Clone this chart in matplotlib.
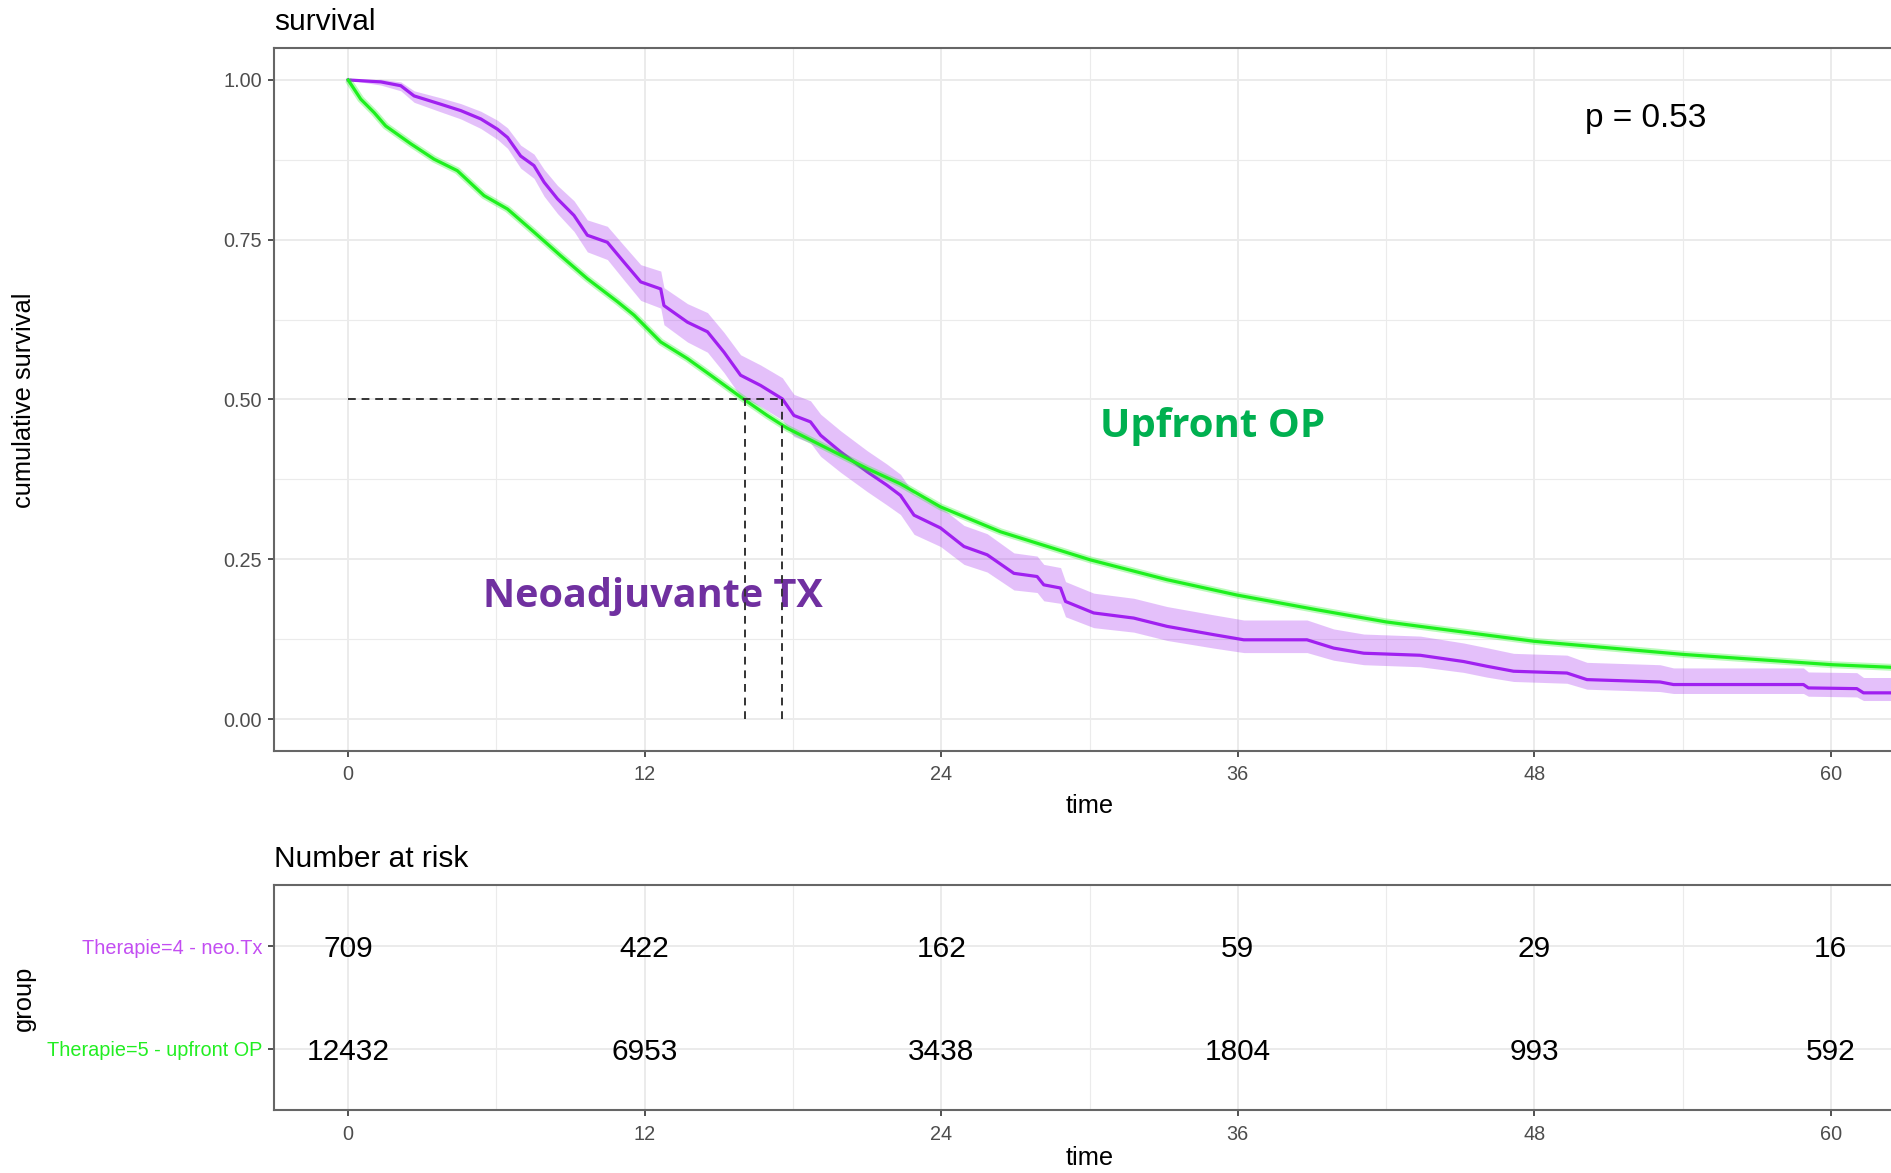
import numpy as np
import matplotlib
matplotlib.use('Agg')
import matplotlib.pyplot as plt

plt.rcParams['font.family'] = ['Liberation Sans', 'DejaVu Sans']

# ------------------------------------------------------------
# Data
# ------------------------------------------------------------
# upfront OP (Therapie=5)
op_t = [0, 0.51, 1.05, 1.52, 2.54, 3.48, 4.42, 5.5, 6.45, 7.52, 8.6, 9.68,
        10.9, 11.57, 12.65, 13.73, 14.67, 15.88, 16.96, 17.77, 18.85, 19.93,
        21.0, 22.35, 23.97, 26.4, 30.04, 33.14, 35.97, 39.2, 42.0, 48.0,
        54.07, 60.06, 63.0]
op_s = [1.0, 0.970, 0.949, 0.928, 0.900, 0.876, 0.858, 0.819, 0.798, 0.762,
        0.725, 0.689, 0.653, 0.632, 0.590, 0.564, 0.538, 0.504, 0.475, 0.455,
        0.434, 0.413, 0.392, 0.368, 0.332, 0.293, 0.249, 0.218, 0.194, 0.171,
        0.152, 0.1216, 0.101, 0.085, 0.080]

# neoadjuvant Tx (Therapie=4), with upper / lower CI distance
neo_t = [0, 1.32, 2.13, 2.67, 3.75, 4.56, 5.37, 6.04, 6.45, 6.98, 7.52, 7.93,
         8.47, 9.14, 9.68, 10.49, 11.16, 11.84, 12.65, 12.78, 13.73, 14.54,
         15.21, 15.88, 16.69, 17.57, 18.04, 18.71, 19.12, 19.93, 21.0, 21.8,
         22.35, 22.9, 23.97, 24.92, 25.86, 26.94, 27.88, 28.15, 28.83, 29.03,
         30.17, 31.79, 33.14, 35.03, 36.24, 38.8, 39.88, 41.1, 43.38, 45.14,
         46.08, 47.16, 49.32, 50.13, 53.09, 53.63, 58.89, 59.09, 61.05, 61.32,
         63.0]
neo_s = [1.0, 0.997, 0.991, 0.975, 0.962, 0.952, 0.939, 0.923, 0.910, 0.881,
         0.866, 0.840, 0.814, 0.788, 0.757, 0.746, 0.715, 0.684, 0.673, 0.647,
         0.621, 0.606, 0.574, 0.538, 0.522, 0.501, 0.475, 0.465, 0.444, 0.418,
         0.387, 0.366, 0.350, 0.319, 0.299, 0.270, 0.257, 0.228, 0.223, 0.210,
         0.205, 0.184, 0.166, 0.158, 0.145, 0.132, 0.124, 0.124, 0.111, 0.103,
         0.0998, 0.090, 0.0826, 0.0748, 0.072, 0.0617, 0.058, 0.054, 0.054,
         0.0487, 0.0476, 0.041, 0.041]
neo_ci_up = [0.0, 0.004, 0.006, 0.008, 0.010, 0.011, 0.012, 0.014, 0.015,
             0.017, 0.018, 0.020, 0.021, 0.023, 0.024, 0.025, 0.026, 0.027,
             0.028, 0.028, 0.029, 0.030, 0.031, 0.032, 0.032, 0.033, 0.033,
             0.033, 0.033, 0.033, 0.033, 0.033, 0.033, 0.033, 0.033, 0.033,
             0.033, 0.032, 0.032, 0.032, 0.032, 0.031, 0.031, 0.031, 0.031,
             0.031, 0.031, 0.031, 0.030, 0.030, 0.030, 0.029, 0.029, 0.028,
             0.028, 0.027, 0.027, 0.026, 0.026, 0.025, 0.025, 0.024, 0.024]
neo_ci_dn = [0.0, 0.005, 0.008, 0.010, 0.012, 0.013, 0.015, 0.016, 0.017,
             0.019, 0.020, 0.022, 0.023, 0.025, 0.026, 0.027, 0.028, 0.029,
             0.030, 0.030, 0.031, 0.032, 0.032, 0.033, 0.033, 0.033, 0.033,
             0.033, 0.033, 0.032, 0.031, 0.031, 0.030, 0.030, 0.029, 0.028,
             0.027, 0.026, 0.025, 0.025, 0.024, 0.024, 0.023, 0.022, 0.022,
             0.021, 0.020, 0.020, 0.019, 0.018, 0.018, 0.017, 0.017, 0.016,
             0.016, 0.015, 0.015, 0.014, 0.014, 0.013, 0.013, 0.012, 0.012]

# medians (months)
med_op = 16.05
med_neo = 17.57

# number at risk
risk_times = [0, 12, 24, 36, 48, 60]
neo_risk = [709, 422, 162, 59, 29, 16]
op_risk = [12432, 6953, 3438, 1804, 993, 592]

group_labels = ['Therapie=5 - upfront OP', 'Therapie=4 - neo.Tx']
p_text = 'p = 0.53'

PURPLE = '#a020f0'
GREEN = '#1ef01e'
GRID = '#ebebeb'
BORDER = '#666666'

# ------------------------------------------------------------
fig = plt.figure(figsize=(18.91, 11.73), dpi=100)
W, H = 1891.0, 1173.0

L = 274 / W
AW = (1905 - 274) / W

# main survival panel
ax = fig.add_axes([L, 1 - 751 / H, AW, (751 - 48) / H])
ax.set_xlim(-3, 63)
ax.set_ylim(-0.05, 1.05)
ax.set_xticks(risk_times)
ax.set_xticks([6, 18, 30, 42, 54], minor=True)
ax.set_yticks([0, 0.25, 0.5, 0.75, 1.0])
ax.set_yticks([0.125, 0.375, 0.625, 0.875], minor=True)
ax.set_yticklabels(['0.00', '0.25', '0.50', '0.75', '1.00'])
ax.grid(which='major', color=GRID, lw=1.4, zorder=0)
ax.grid(which='minor', color=GRID, lw=0.8, zorder=0)
ax.set_axisbelow(True)
ax.tick_params(which='major', length=4, width=1.2, color='#333333', pad=4.5,
               labelsize=14.3, labelcolor='#4d4d4d')
ax.tick_params(axis='x', pad=6)
ax.tick_params(which='minor', length=0)
for sp in ax.spines.values():
    sp.set_color(BORDER)
    sp.set_linewidth(1.5)

neo_s_a = np.array(neo_s)
ax.fill_between(neo_t, neo_s_a - np.array(neo_ci_dn),
                neo_s_a + np.array(neo_ci_up),
                color=PURPLE, alpha=0.28, lw=0, zorder=2)
ax.plot(neo_t, neo_s, color=PURPLE, lw=2.3, zorder=3)
ax.plot(op_t, op_s, color=GREEN, lw=5, alpha=0.3, zorder=4,
        solid_capstyle='butt')
ax.plot(op_t, op_s, color=GREEN, lw=2.3, zorder=4)

# median lines
dash = dict(color='#333333', lw=1.4, ls=(0, (4, 3)), zorder=5)
ax.plot([0, med_neo], [0.5, 0.5], **dash)
ax.plot([med_op, med_op], [0, 0.5], **dash)
ax.plot([med_neo, med_neo], [0, 0.5], **dash)

ax.text(52.5, 0.94, p_text, ha='center', va='center', fontsize=24)
ax.text(34.97, 0.457, 'Upfront OP', ha='center', va='center', fontsize=29,
        fontweight='bold', color='#00b050', family=['Open Sans', 'DejaVu Sans'])
ax.text(12.34, 0.192, 'Neoadjuvante TX', ha='center', va='center',
        fontsize=28.5, fontweight='bold', color='#7030a0',
        family=['Open Sans', 'DejaVu Sans'])

# risk table panel
rax = fig.add_axes([L, 1 - 1110 / H, AW, (1110 - 885) / H])
rax.set_xlim(-3, 63)
rax.set_ylim(0.4, 2.6)
rax.set_xticks(risk_times)
rax.set_xticks([6, 18, 30, 42, 54], minor=True)
rax.set_yticks([1, 2])
rax.set_yticklabels(group_labels)
rax.grid(which='major', color=GRID, lw=1.4, zorder=0)
rax.grid(which='minor', axis='x', color=GRID, lw=0.8, zorder=0)
rax.set_axisbelow(True)
rax.tick_params(which='major', length=4, width=1.2, color='#333333', pad=4.5,
                labelsize=14.3, labelcolor='#4d4d4d')
rax.tick_params(axis='x', pad=6.5)
rax.tick_params(which='minor', length=0)
rax.get_yticklabels()[0].set_color('#22ee22')
rax.get_yticklabels()[1].set_color('#c34ef2')
for sp in rax.spines.values():
    sp.set_color(BORDER)
    sp.set_linewidth(1.5)

for t, n in zip(risk_times, neo_risk):
    rax.text(t, 2, str(n), ha='center', va='center_baseline', fontsize=21.5)
for t, n in zip(risk_times, op_risk):
    rax.text(t, 1, str(n), ha='center', va='center_baseline', fontsize=21.5)

# titles and axis labels
cx = L + AW / 2
fig.text(L, 1 - 30 / H, 'survival', fontsize=21.5, va='baseline')
fig.text(L, 1 - 867 / H, 'Number at risk', fontsize=21.5, va='baseline')
fig.text(cx, 1 - 806 / H, 'time', fontsize=18.4, ha='center', va='center')
fig.text(cx, 1 - 1158 / H, 'time', fontsize=18.4, ha='center', va='center')
fig.text(24 / W, 1 - 400 / H, 'cumulative survival', fontsize=18.4,
         rotation=90, ha='center', va='center')
fig.text(24 / W, 1 - 998 / H, 'group', fontsize=18.4, rotation=90,
         ha='center', va='center')

fig.savefig('out.png', dpi=100)
